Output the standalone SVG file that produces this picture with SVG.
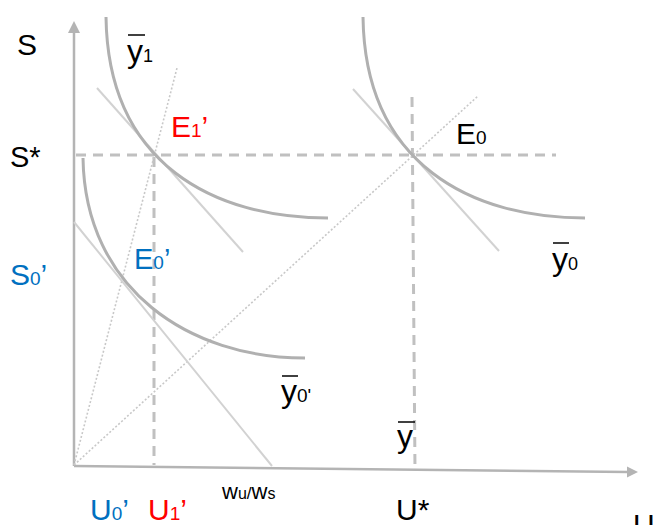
<svg xmlns="http://www.w3.org/2000/svg" width="653" height="525" viewBox="0 0 653 525">
<style>
text{font-family:"Liberation Sans",Arial,sans-serif;}
.ax{stroke:#b4b4b4;stroke-width:2.5;fill:none;}
.cv{stroke:#b0b0b0;stroke-width:3;fill:none;}
.tg{stroke:#d2d2d2;stroke-width:2;fill:none;}
.ds{stroke:#c0c0c0;stroke-width:3;fill:none;stroke-dasharray:10 7;}
.dt{stroke:#c8c8c8;stroke-width:1.6;fill:none;stroke-dasharray:2 2;}
.k{fill:#000;}
.r{fill:#ff0000;}
.b{fill:#0070c0;}
.ol{stroke:#000;stroke-width:1.5;}
</style>
<rect width="653" height="525" fill="#fff"/>
<g id="connectors">
<line class="ax" x1="74" y1="466" x2="74" y2="30"/>
<polygon points="74,21 68,33 80,33" fill="#b4b4b4"/>
<line class="ax" x1="74" y1="466" x2="628" y2="472"/>
<polygon points="638,472 627,466.5 627,477.5" fill="#b4b4b4"/>
<line class="ds" x1="76" y1="155" x2="556" y2="155"/>
<line class="ds" x1="154" y1="157" x2="154" y2="465"/>
<line class="ds" x1="412" y1="97" x2="415" y2="471"/>
<line class="dt" x1="74" y1="465" x2="177" y2="68"/>
<line class="dt" x1="74" y1="465" x2="478" y2="96"/>
<line class="tg" x1="97" y1="88" x2="243" y2="252"/>
<line class="tg" x1="353" y1="89" x2="499" y2="251"/>
<line class="tg" x1="74" y1="222" x2="272" y2="466"/>
</g>
<g id="curve-y1"><path class="cv" d="M106,17 C108,165 215,218 328,218"/></g>
<g id="curve-y0"><path class="cv" d="M363,17 C365,165 472,218 585,218"/></g>
<g id="curve-y0p"><path class="cv" d="M83,158 C85,290 190,358 305,358"/></g>
<g id="label-S"><text x="17" y="55" font-size="30" class="k">S</text></g>
<g id="label-Sstar"><text x="10" y="167" font-size="29" class="k">S*</text></g>
<g id="label-S0p"><text x="10" y="285" font-size="30" class="b">S<tspan font-size="19">0</tspan>’</text></g>
<g id="label-y1"><line class="ol" x1="128" y1="35" x2="145" y2="35"/><text x="127" y="62" font-size="32" class="k">y<tspan font-size="18">1</tspan></text></g>
<g id="label-E1p"><text x="171" y="137" font-size="30" class="r">E<tspan font-size="19">1</tspan>’</text></g>
<g id="label-E0"><text x="456" y="144" font-size="30" class="k">E<tspan font-size="19">0</tspan></text></g>
<g id="label-E0p"><text x="134" y="269" font-size="29" class="b">E<tspan font-size="19">0</tspan>’</text></g>
<g id="label-y0"><line class="ol" x1="553" y1="243" x2="569" y2="243"/><text x="552" y="270" font-size="32" class="k">y<tspan font-size="18">0</tspan></text></g>
<g id="label-y0p"><line class="ol" x1="282" y1="376" x2="298" y2="376"/><text x="281" y="402" font-size="32" class="k">y<tspan font-size="19">0'</tspan></text></g>
<g id="label-ybar"><line class="ol" x1="398" y1="422" x2="415" y2="422"/><text x="397" y="447" font-size="32" class="k">y</text></g>
<g id="label-wuws"><text x="222" y="499" font-size="22" class="k">w<tspan font-size="16">u</tspan><tspan font-size="17">/</tspan>w<tspan font-size="16">s</tspan></text></g>
<g id="label-U0p"><text x="90" y="520" font-size="30" class="b">U<tspan font-size="19">0</tspan>’</text></g>
<g id="label-U1p"><text x="148" y="520" font-size="30" class="r">U<tspan font-size="19">1</tspan>’</text></g>
<g id="label-Ustar"><text x="396" y="520" font-size="30" class="k">U*</text></g>
<g id="label-U"><text x="633" y="535" font-size="30" class="k">U</text></g>
</svg>
